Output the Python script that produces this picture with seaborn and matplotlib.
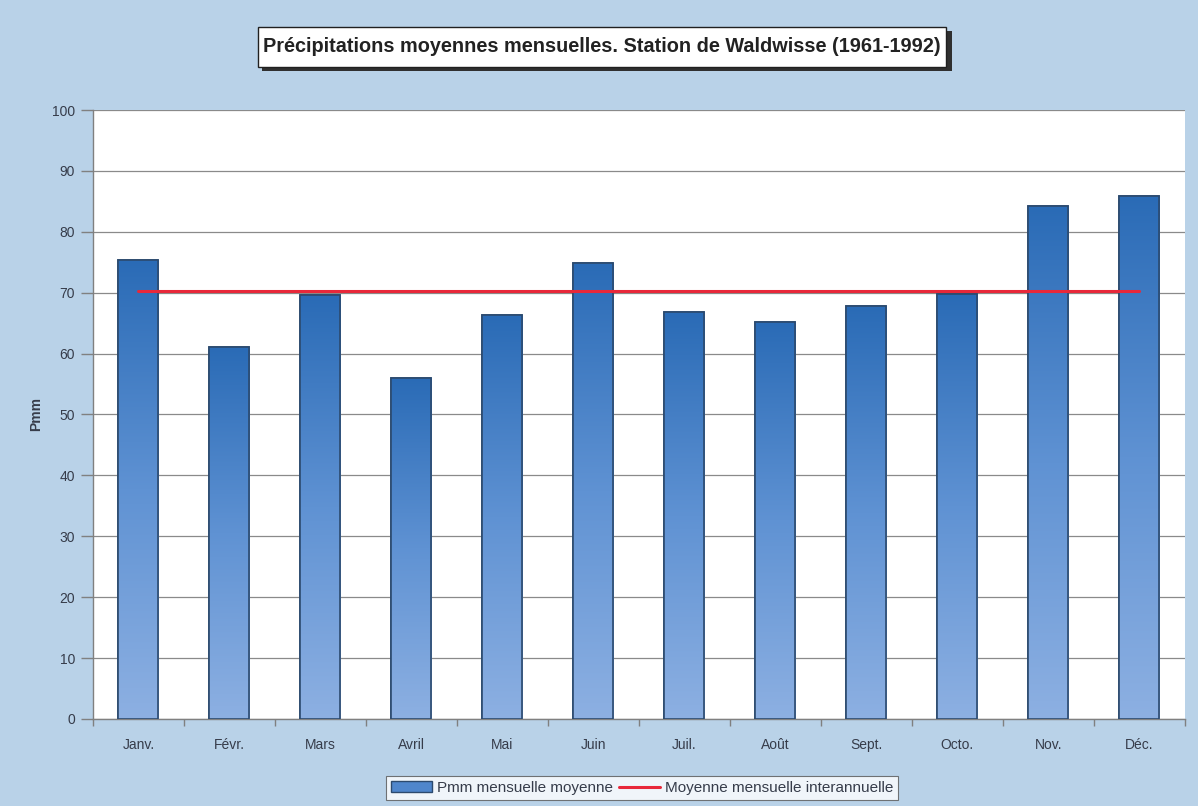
import numpy as np
import pandas as pd
import matplotlib
matplotlib.use("Agg")
import matplotlib.pyplot as plt
import seaborn as sns
from matplotlib.colors import LinearSegmentedColormap
from matplotlib.patches import Rectangle
from matplotlib.lines import Line2D

mois = ["Janv.", "Févr.", "Mars", "Avril", "Mai", "Juin",
        "Juil.", "Août", "Sept.", "Octo.", "Nov.", "Déc."]
pmm = [75.4, 61.1, 69.6, 56.0, 66.3, 74.9, 66.8, 65.2, 67.8, 69.8, 84.2, 85.9]
moyenne_interannuelle = 70.2
y_ticks = [0, 10, 20, 30, 40, 50, 60, 70, 80, 90, 100]

sns.set_theme(style="white")
plt.rcParams["font.family"] = ["Liberation Sans", "DejaVu Sans"]

bg = "#b9d2e8"
txt = "#363c4a"
fig = plt.figure(figsize=(11.98, 8.06), dpi=100, facecolor=bg)
ax = fig.add_axes([0.0776, 0.108, 0.9114, 0.7555])
ax.set_facecolor("white")

df = pd.DataFrame({"mois": mois, "pmm": pmm})
sns.barplot(data=df, x="mois", y="pmm", ax=ax, width=0.44,
            color="#3b78c0", edgecolor="#2c4a6e", linewidth=1.2, zorder=3)

# vertical gradient fill inside each bar
cmap = LinearSegmentedColormap.from_list("bleu", ["#8db0e2", "#5f92d3", "#2a6bb6"])
grad = np.linspace(0, 1, 256).reshape(-1, 1)
for p in ax.patches:
    x0, w, h = p.get_x(), p.get_width(), p.get_height()
    im = ax.imshow(grad, extent=[x0, x0 + w, 0, h], origin="lower",
                   cmap=cmap, aspect="auto", zorder=3.5)
    im.set_clip_path(p)
    ax.add_patch(Rectangle((x0, 0), w, h, fill=False, edgecolor="#2c4a6e",
                           linewidth=1.2, zorder=4))

# inter-annual monthly mean
ax.plot([0, len(mois) - 1], [moyenne_interannuelle] * 2, color="#e8283a",
        linewidth=2.2, zorder=5)

ax.set_xlim(-0.5, len(mois) - 0.5)
ax.set_ylim(0, 100)
ax.set_yticks(y_ticks)
ax.set_yticklabels([str(v) for v in y_ticks], fontsize=10, color=txt)
ax.set_xticks(range(len(mois)))
ax.set_xticklabels(mois, fontsize=10, color=txt)
ax.tick_params(axis="x", length=0, pad=14)
ax.tick_params(axis="y", length=9, color="#808080", width=1, pad=4, left=True)
ax.set_xticks(np.arange(-0.5, len(mois), 1), minor=True)
ax.tick_params(axis="x", which="minor", length=5, color="#808080", width=1, bottom=True)
ax.yaxis.grid(True, color="#8a8a8a", linewidth=0.9, zorder=0)
ax.set_axisbelow(True)
for s in ["top", "right"]:
    ax.spines[s].set_visible(False)
for s in ["left", "bottom"]:
    ax.spines[s].set_color("#808080")
    ax.spines[s].set_linewidth(1.0)
ax.set_xlabel("")
ax.set_ylabel("Pmm", fontsize=10, fontweight="bold", color=txt, labelpad=6)

# title box with drop shadow
fig.patches.append(Rectangle((262 / 1198, 1 - 71 / 806), 690 / 1198, 40 / 806,
                             transform=fig.transFigure, facecolor="#303030",
                             edgecolor="none", zorder=1))
fig.patches.append(Rectangle((258 / 1198, 1 - 67 / 806), 688 / 1198, 40 / 806,
                             transform=fig.transFigure, facecolor="white",
                             edgecolor="#202020", linewidth=1.0, zorder=2))
fig.text(602 / 1198, 1 - 46 / 806,
         "Précipitations moyennes mensuelles. Station de Waldwisse (1961-1992)",
         ha="center", va="center", fontsize=14.3, fontweight="bold",
         color="#222222", zorder=3)

# legend at the bottom
handles = [Rectangle((0, 0), 1, 1, facecolor="#4f86cc", edgecolor="#2c4a6e"),
           Line2D([0], [0], color="#e8283a", linewidth=2.2)]
leg = fig.legend(handles, ["Pmm mensuelle moyenne", "Moyenne mensuelle interannuelle"],
                 loc="center", bbox_to_anchor=(642 / 1198, 1 - 788 / 806), ncol=2,
                 frameon=True, fancybox=False, fontsize=11, handlelength=2.7,
                 handleheight=0.7, handletextpad=0.3, columnspacing=0.4,
                 borderpad=0.3, edgecolor="#555555")
leg.get_frame().set_linewidth(0.8)
for t in leg.get_texts():
    t.set_color(txt)

fig.savefig("out.png", dpi=100, facecolor=bg)
